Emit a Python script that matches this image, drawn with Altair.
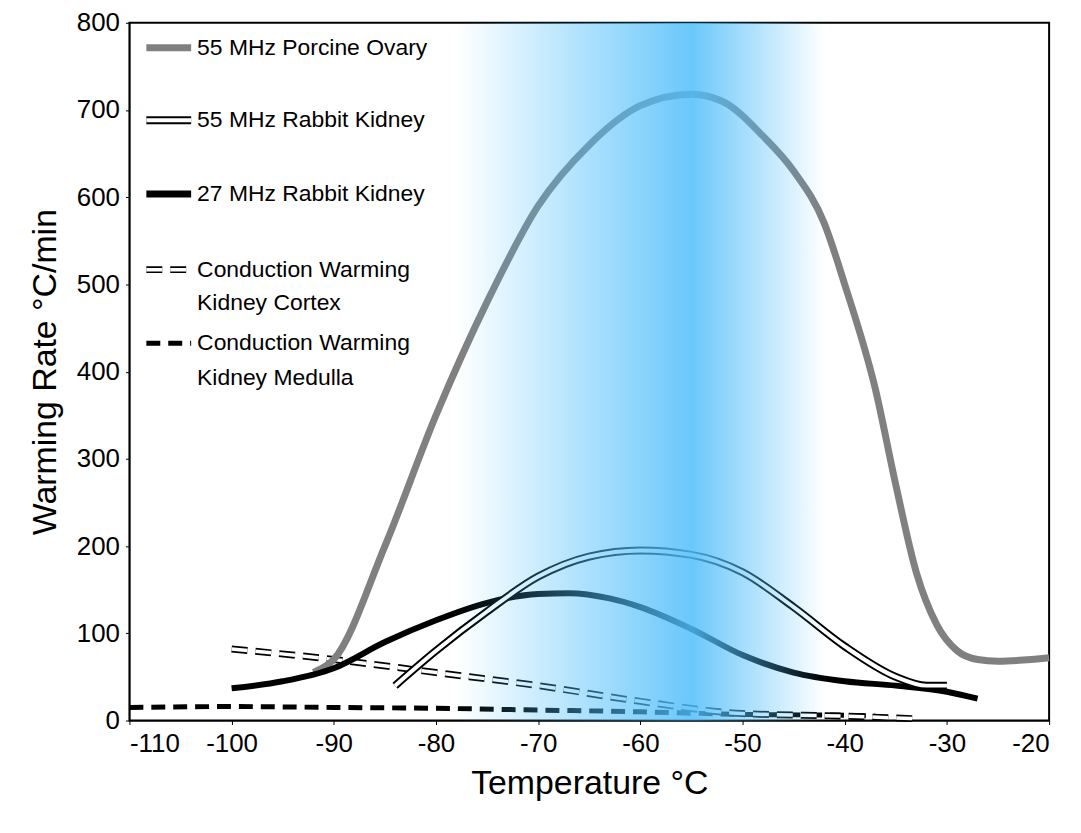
import altair as alt
import pandas as pd

ov_x = [-92,-90,-85,-80,-75,-70,-65,-60,-55,-52,-48,-45,-42,-40,-37,-35,-33,-31,-29,-27,-25,-20]
ov_y = [55,70,200,350,480,590,660,705,718,710,670,630,570,500,380,270,170,110,80,70,68,72]
rk55_x = [-84,-80,-75,-70,-65,-60,-55,-50,-45,-40,-35,-32,-30]
rk55_y = [40,80,125,165,188,195,190,170,130,85,50,40,40]
rk27_x = [-100,-95,-90,-85,-80,-75,-70,-67,-63,-60,-55,-50,-45,-40,-35,-30,-27]
rk27_y = [37,45,60,90,115,135,145,146,140,130,105,75,55,45,40,33,25]
cx_x = [-100,-90,-80,-70,-60,-50,-40,-33]
cx_y = [82,70,55,40,22,8,5,2]
md_x = [-110,-100,-90,-80,-70,-60,-50,-40,-37]
md_y = [15,16,15,14,12,10,7,6,5]
band = [-78, -42]

F = "Liberation Sans"
xs = alt.Scale(domain=[-110, -20], nice=False)
ys = alt.Scale(domain=[0, 800], nice=False)
common = dict(grid=False, labelFontSize=26, titleFontSize=34, labelFont=F, titleFont=F,
              labelColor="black", titleColor="black", domainColor="black", tickColor="black",
              titleFontWeight="normal", labelPadding=6, tickSize=4)
X = alt.X("x:Q", scale=xs, title="Temperature °C",
          axis=alt.Axis(values=list(range(-110, -19, 10)), titlePadding=10,
                        labelExpr="replace(datum.label, '−', '-')", **common))
Y = alt.Y("y:Q", scale=ys, title="Warming Rate °C/min",
          axis=alt.Axis(values=list(range(0, 801, 100)), titlePadding=14, **common))

def df(x, y):
    return pd.DataFrame({"x": x, "y": y})

def line(x, y, color, w, dash=None):
    kw = dict(color=color, strokeWidth=w, interpolate="monotone")
    if dash:
        kw["strokeDash"] = dash
    return alt.Chart(df(x, y)).mark_line(**kw).encode(x=X, y=Y)

layers = [
    line(md_x, md_y, "black", 5, [14, 8]),
    line(cx_x, cx_y, "black", 7, [16, 8]),
    line(cx_x, cx_y, "white", 3.5, [16, 8]),
    line(ov_x, ov_y, "#808080", 7),
    line(rk27_x, rk27_y, "black", 6),
    line(rk55_x, rk55_y, "black", 8),
    line(rk55_x, rk55_y, "white", 4),
]

grad = alt.Gradient(gradient="linear", x1=0, x2=1, y1=0, y2=0, stops=[
    alt.GradientStop(offset=0, color="rgba(80,190,250,0)"),
    alt.GradientStop(offset=0.64, color="rgba(80,190,250,0.85)"),
    alt.GradientStop(offset=1, color="rgba(80,190,250,0)")])
bandc = alt.Chart(pd.DataFrame({"x": [band[0]], "x2": [band[1]]})).mark_rect(fill=grad).encode(
    x=alt.X("x:Q", scale=xs), x2="x2:Q", y=alt.value(0), y2=alt.value(701))
layers.append(bandc)

def lg_line(y, color, w, dash=None):
    kw = dict(color=color, strokeWidth=w)
    if dash:
        kw["strokeDash"] = dash
    return alt.Chart(pd.DataFrame({"a": [0]})).mark_rule(**kw).encode(
        x=alt.value(17), x2=alt.value(62), y=alt.value(y))

layers += [
    lg_line(25, "#808080", 7),
    lg_line(98, "black", 8), lg_line(98, "white", 4),
    lg_line(172, "black", 7),
    lg_line(248, "black", 7, [16, 8]), lg_line(248, "white", 3.5, [16, 8]),
    lg_line(322, "black", 5, [14, 8]),
]
texts = [("55 MHz Porcine Ovary", 25), ("55 MHz Rabbit Kidney", 98), ("27 MHz Rabbit Kidney", 172),
         ("Conduction Warming", 248), ("Kidney Cortex", 282),
         ("Conduction Warming", 322), ("Kidney Medulla", 357)]
for t, y in texts:
    layers.append(alt.Chart(pd.DataFrame({"t": [t]})).mark_text(
        align="left", baseline="middle", fontSize=23, font=F, color="black").encode(
        x=alt.value(68), y=alt.value(y), text="t:N"))

chart = alt.layer(*layers).properties(
    width=924, height=701,
    padding={"left": 20, "top": 0, "right": 10, "bottom": 0}).configure_view(
    stroke="black", strokeWidth=2)
chart.save("out.html", embed_options={"renderer": "svg", "actions": False})
